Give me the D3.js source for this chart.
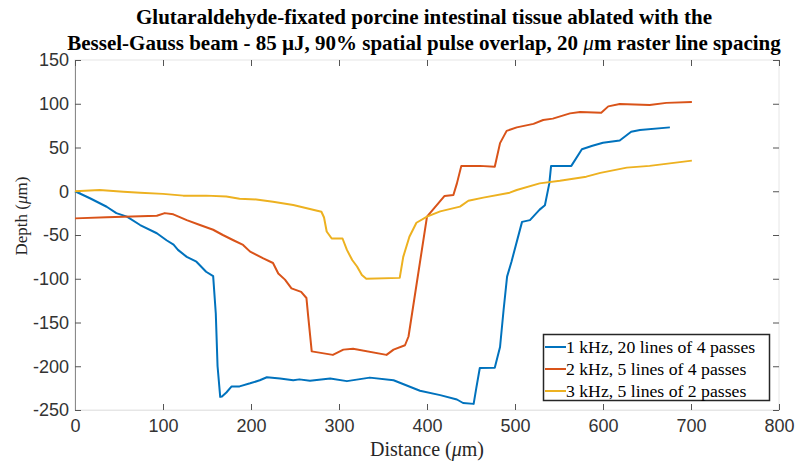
<!DOCTYPE html>
<html>
<head>
<meta charset="utf-8">
<script src="https://cdn.jsdelivr.net/npm/d3@7/dist/d3.min.js"></script>
<style>
  html, body { margin: 0; padding: 0; background: #fff; }
  svg { display: block; }
</style>
</head>
<body>
<svg id="chart" width="796" height="463"></svg>
<script>
// Depth profiles (µm) across the ablated track, one array pair per parameter set
const blueX = [0, 17, 36, 47, 59, 74, 93, 104, 112, 117, 127, 138, 149, 157, 160, 162, 165, 167, 172, 178, 187, 199, 210, 218, 233, 248, 255, 267, 290, 309, 335, 362, 392, 415, 434, 441, 453, 456, 460, 477, 483, 487, 491, 496, 508, 517, 528, 534, 539, 541, 564, 576, 588, 600, 619, 632, 642, 676];
const blueY = [0, -8, -17.7, -25, -29, -38.6, -48, -56, -61, -67, -75, -80.5, -92, -97, -140, -200, -235, -234.5, -230, -223, -223, -219.5, -216, -212.6, -214, -216, -215, -216.5, -214, -217, -213, -216, -228, -233, -238, -242, -243, -225, -202, -201.6, -178, -136, -97.6, -80.5, -35, -33, -21, -16, 9, 29, 29, 48, 52, 55.5, 58, 68, 70, 73];

const redX = [0, 36, 93, 102, 111.7, 127, 142, 157, 168, 180, 191, 199, 214, 225, 231, 238.6, 246, 257, 263, 265, 269, 293, 305, 316, 354, 362, 375, 379, 400, 407, 420, 430, 434, 439, 460, 477, 483, 490.5, 502, 521, 532, 543, 562.5, 574, 598, 606, 619, 653, 672, 701];
const redY = [-31, -29.8, -28, -25, -26.4, -33, -38.6, -44, -50, -56, -61.4, -69, -76.7, -82, -94, -101, -111, -115, -122, -143, -183, -187, -181, -180, -187, -181, -176, -166, -29, -20.7, -5.4, -4.3, 9, 29, 29, 28, 55, 69, 73, 77, 81.4, 83, 89, 90.6, 89.8, 97, 99.7, 98.6, 101, 102];

const yellowX = [0, 28, 55, 74, 100, 123, 149, 172, 187, 206, 225, 248, 280, 283, 286, 291.7, 304, 309, 315, 320.5, 326, 331, 369, 373, 380, 388, 400, 415, 437.5, 447, 464, 494, 502, 528, 551, 581, 597, 627, 653, 701];
const yellowY = [0, 1.4, -0.5, -1.6, -3, -5, -5, -6, -8.5, -9.3, -12, -15.7, -23.4, -30, -46, -54, -54, -67, -78.6, -86, -95.7, -100, -99, -75, -52, -36, -29, -23, -17.6, -10.8, -7.3, -1.6, 1.4, 9, 12, 16.7, 21, 27, 29, 35];

const seriesNames = ["1 kHz, 20 lines of 4 passes", "2 kHz, 5 lines of 4 passes", "3 kHz, 5 lines of 2 passes"];
const seriesColors = ["#0072BD", "#D95319", "#EDB120"];

const xTicks = [0, 100, 200, 300, 400, 500, 600, 700, 800];
const yTicks = [150, 100, 50, 0, -50, -100, -150, -200, -250];

const titleLines = [
  "Glutaraldehyde-fixated porcine intestinal tissue ablated with the",
  "Bessel-Gauss beam - 85 \u00b5J, 90% spatial pulse overlap, 20 \u03bcm raster line spacing"
];

const svg = d3.select("#chart");
const plotL = 75, plotR = 779, plotT = 60, plotB = 410;

const x = d3.scaleLinear().domain([0, 800]).range([plotL, plotR]);
const y = d3.scaleLinear().domain([-250, 150]).range([plotB, plotT]);

const sansFont = "Liberation Sans, Arial, sans-serif";
const serifFont = "Liberation Serif, Times New Roman, serif";
const plainNum = d => String(d);   // hyphen-minus, as in the tick labels

// Plot frame: light box, darker left spine
svg.append("rect")
  .attr("x", plotL).attr("y", plotT)
  .attr("width", plotR - plotL).attr("height", plotB - plotT)
  .attr("fill", "none").attr("stroke", "#e6e6e6").attr("stroke-width", 1);

// Axes with inward ticks
const xAxis = svg.append("g").attr("transform", `translate(0,${plotB})`)
  .call(d3.axisBottom(x).tickValues(xTicks).tickSize(-6).tickPadding(9).tickFormat(plainNum));
const yAxis = svg.append("g").attr("transform", `translate(${plotL},0)`)
  .call(d3.axisLeft(y).tickValues(yTicks).tickSize(-6).tickPadding(6).tickFormat(plainNum));

// Matching inward ticks on the top and right edges
svg.append("g").attr("transform", `translate(0,${plotT})`)
  .call(d3.axisTop(x).tickValues(xTicks).tickSize(-6).tickFormat(""))
  .call(g => g.select(".domain").remove());
svg.append("g").attr("transform", `translate(${plotR},0)`)
  .call(d3.axisRight(y).tickValues(yTicks).tickSize(-6).tickFormat(""))
  .call(g => g.select(".domain").remove());

svg.selectAll(".tick line").attr("stroke", "#555").attr("stroke-width", 1);
xAxis.select(".domain").attr("stroke", "#e6e6e6");
yAxis.select(".domain").attr("stroke", "#8a8a8a");
svg.selectAll(".tick text")
  .attr("font-family", sansFont).attr("font-size", 18).attr("fill", "#333");

// Data lines
const line = d3.line().x(d => x(d[0])).y(d => y(d[1]));
const allSeries = [
  d3.zip(blueX, blueY),
  d3.zip(redX, redY),
  d3.zip(yellowX, yellowY)
];
allSeries.forEach((pts, i) => {
  svg.append("path")
    .datum(pts)
    .attr("d", line)
    .attr("fill", "none")
    .attr("stroke", seriesColors[i])
    .attr("stroke-width", 2)
    .attr("stroke-linejoin", "round");
});

// Title
titleLines.forEach((t, i) => {
  const txt = svg.append("text")
    .attr("x", 424).attr("y", 24 + i * 26)
    .attr("text-anchor", "middle")
    .attr("font-family", serifFont).attr("font-size", 21).attr("font-weight", "bold")
    .attr("fill", "#000");
  if (i === 1) {
    const parts = t.split("\u03bcm");
    txt.append("tspan").text(parts[0]);
    txt.append("tspan").attr("font-style", "italic").attr("font-weight", "normal").text("\u03bc");
    txt.append("tspan").text("m" + parts[1]);
  } else {
    txt.text(t);
  }
});

// Axis labels
const xl = svg.append("text")
  .attr("x", 427).attr("y", 456)
  .attr("text-anchor", "middle")
  .attr("font-family", serifFont).attr("font-size", 20).attr("fill", "#262626");
xl.append("tspan").text("Distance (");
xl.append("tspan").attr("font-style", "italic").text("\u03bc");
xl.append("tspan").text("m)");

const yl = svg.append("text")
  .attr("transform", "translate(27,216) rotate(-90)")
  .attr("text-anchor", "middle")
  .attr("font-family", serifFont).attr("font-size", 17).attr("fill", "#262626");
yl.append("tspan").text("Depth (");
yl.append("tspan").attr("font-style", "italic").text("\u03bc");
yl.append("tspan").text("m)");

// Legend
const lg = svg.append("g");
lg.append("rect")
  .attr("x", 543.5).attr("y", 334.5).attr("width", 226).attr("height", 66)
  .attr("fill", "#fff").attr("stroke", "#262626").attr("stroke-width", 1.5);
seriesNames.forEach((name, i) => {
  const cy = 347 + i * 22;
  lg.append("line")
    .attr("x1", 545).attr("x2", 566).attr("y1", cy).attr("y2", cy)
    .attr("stroke", seriesColors[i]).attr("stroke-width", 2);
  lg.append("text")
    .attr("x", 566).attr("y", cy + 6)
    .attr("font-family", serifFont).attr("font-size", 17.7).attr("fill", "#000")
    .text(name);
});
</script>
</body>
</html>
